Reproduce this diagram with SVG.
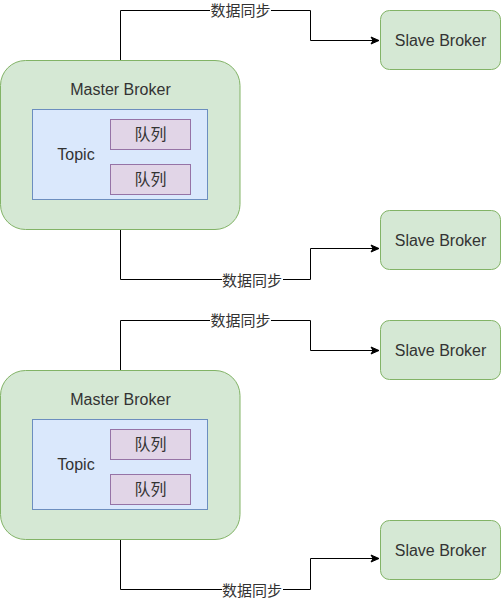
<svg xmlns="http://www.w3.org/2000/svg" width="501" height="600" viewBox="0 0 501 600">
<style>
.master{fill:#d5e8d4;stroke:#82b366;stroke-width:1}
.slave{fill:#d5e8d4;stroke:#82b366;stroke-width:1}
.topic{fill:#dae8fc;stroke:#6c8ebf;stroke-width:1}
.queue{fill:#e1d5e7;stroke:#9673a6;stroke-width:1}
.t{font-family:"Liberation Sans","Noto Sans CJK SC",sans-serif;font-size:16px;fill:#333333;text-anchor:middle;dominant-baseline:central}
.lbl{font-family:"Liberation Sans","Noto Sans CJK SC",sans-serif;font-size:15px;fill:#333333;text-anchor:middle;dominant-baseline:central}
.edge{fill:none;stroke:#000000;stroke-width:1}
.lblbg{fill:#ffffff}
</style>
<defs>
<marker id="arr" markerWidth="10" markerHeight="10" refX="9" refY="5" orient="auto" markerUnits="userSpaceOnUse">
<path d="M1,1.5 L9,5 L1,8.5 L3,5 Z" fill="#000000" stroke="#000000" stroke-width="1"/>
</marker>
</defs>
<g id="connectors">
<path class="edge" d="M120.5,60 V10.5 H310.5 V40.5 H379" marker-end="url(#arr)"/>
<rect class="lblbg" x="210" y="2" width="61" height="17"/>
<text class="lbl" x="240.5" y="10">数据同步</text>
<path class="edge" d="M120.5,230 V279.5 H310.5 V248.5 H379" marker-end="url(#arr)"/>
<rect class="lblbg" x="222" y="272" width="61" height="17"/>
<text class="lbl" x="252" y="280">数据同步</text>
<path class="edge" d="M120.5,370 V320.5 H310.5 V350.5 H379" marker-end="url(#arr)"/>
<rect class="lblbg" x="210" y="312" width="61" height="17"/>
<text class="lbl" x="240.5" y="320">数据同步</text>
<path class="edge" d="M120.5,540 V589.5 H310.5 V558.5 H379" marker-end="url(#arr)"/>
<rect class="lblbg" x="222" y="582" width="61" height="17"/>
<text class="lbl" x="252" y="590">数据同步</text>
</g>
<g id="master1">
<rect class="master" x="0.5" y="60.5" width="239.5" height="169" rx="25" ry="25"/>
<text class="t" x="120.5" y="89">Master Broker</text>
</g>
<g id="topic1">
<rect class="topic" x="32.5" y="109.5" width="175" height="90"/>
<text class="t" x="76" y="154">Topic</text>
</g>
<g id="queue1a">
<rect class="queue" x="110.5" y="119.5" width="80" height="30"/>
<text class="t" x="150.5" y="134">队列</text>
</g>
<g id="queue1b">
<rect class="queue" x="110.5" y="164.5" width="80" height="30"/>
<text class="t" x="150.5" y="179">队列</text>
</g>
<g id="slave1">
<rect class="slave" x="380.5" y="10.5" width="120" height="59" rx="9" ry="9"/>
<text class="t" x="440.5" y="40">Slave Broker</text>
</g>
<g id="slave2">
<rect class="slave" x="380.5" y="210.5" width="120" height="59" rx="9" ry="9"/>
<text class="t" x="440.5" y="240">Slave Broker</text>
</g>
<g id="master2">
<rect class="master" x="0.5" y="370.5" width="239.5" height="169" rx="25" ry="25"/>
<text class="t" x="120.5" y="399">Master Broker</text>
</g>
<g id="topic2">
<rect class="topic" x="32.5" y="419.5" width="175" height="90"/>
<text class="t" x="76" y="464">Topic</text>
</g>
<g id="queue2a">
<rect class="queue" x="110.5" y="429.5" width="80" height="30"/>
<text class="t" x="150.5" y="444">队列</text>
</g>
<g id="queue2b">
<rect class="queue" x="110.5" y="474.5" width="80" height="30"/>
<text class="t" x="150.5" y="489">队列</text>
</g>
<g id="slave3">
<rect class="slave" x="380.5" y="320.5" width="120" height="59" rx="9" ry="9"/>
<text class="t" x="440.5" y="350">Slave Broker</text>
</g>
<g id="slave4">
<rect class="slave" x="380.5" y="520.5" width="120" height="59" rx="9" ry="9"/>
<text class="t" x="440.5" y="550">Slave Broker</text>
</g>
</svg>
